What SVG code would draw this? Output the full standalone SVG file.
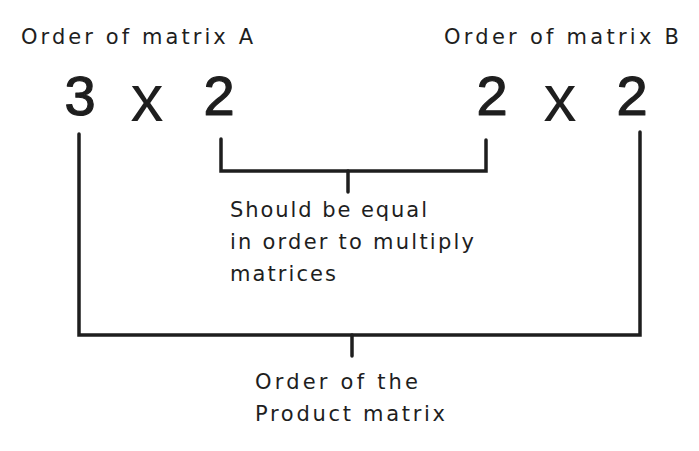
<svg xmlns="http://www.w3.org/2000/svg" width="699" height="451" viewBox="0 0 699 451">
<style>
.lbl{font-family:"DejaVu Sans","Liberation Sans",sans-serif;font-size:21px;fill:#1e1e1e}
.big{font-family:"Liberation Sans","DejaVu Sans",sans-serif;font-size:56px;fill:#1e1e1e;stroke:#1e1e1e;stroke-width:1.2;stroke-linejoin:round;text-anchor:middle}
.ln{fill:none;stroke:#1e1e1e;stroke-width:3.5;stroke-linecap:round;stroke-linejoin:miter}
</style>
<rect width="699" height="451" fill="#ffffff"/>
<g id="label-a"><text class="lbl" x="21" y="44" textLength="232" lengthAdjust="spacing">Order of matrix A</text></g>
<g id="label-b"><text class="lbl" x="444" y="44" textLength="235" lengthAdjust="spacing">Order of matrix B</text></g>
<g id="order-a"><text class="big" y="115"><tspan x="80">3</tspan><tspan x="147" y="121" font-size="66" stroke-width="0">x</tspan><tspan x="219" y="115">2</tspan></text></g>
<g id="order-b"><text class="big" y="115"><tspan x="492">2</tspan><tspan x="560" y="121" font-size="66" stroke-width="0">x</tspan><tspan x="632" y="115">2</tspan></text></g>
<g id="note-equal"><text class="lbl"><tspan x="230" y="217" textLength="197" lengthAdjust="spacing">Should be equal</tspan><tspan x="230" y="249" textLength="244" lengthAdjust="spacing">in order to multiply</tspan><tspan x="230" y="281" textLength="106" lengthAdjust="spacing">matrices</tspan></text></g>
<g id="note-product"><text class="lbl"><tspan x="255" y="389" textLength="163" lengthAdjust="spacing">Order of the</tspan><tspan x="255" y="421" textLength="190" lengthAdjust="spacing">Product matrix</tspan></text></g>
<g id="connectors">
<path class="ln" d="M221 139 V171 H486 V140"/>
<path class="ln" d="M348 171 V192"/>
<path class="ln" d="M79 134 V335 H640 V132"/>
<path class="ln" d="M352 335 V356"/>
</g>
</svg>
